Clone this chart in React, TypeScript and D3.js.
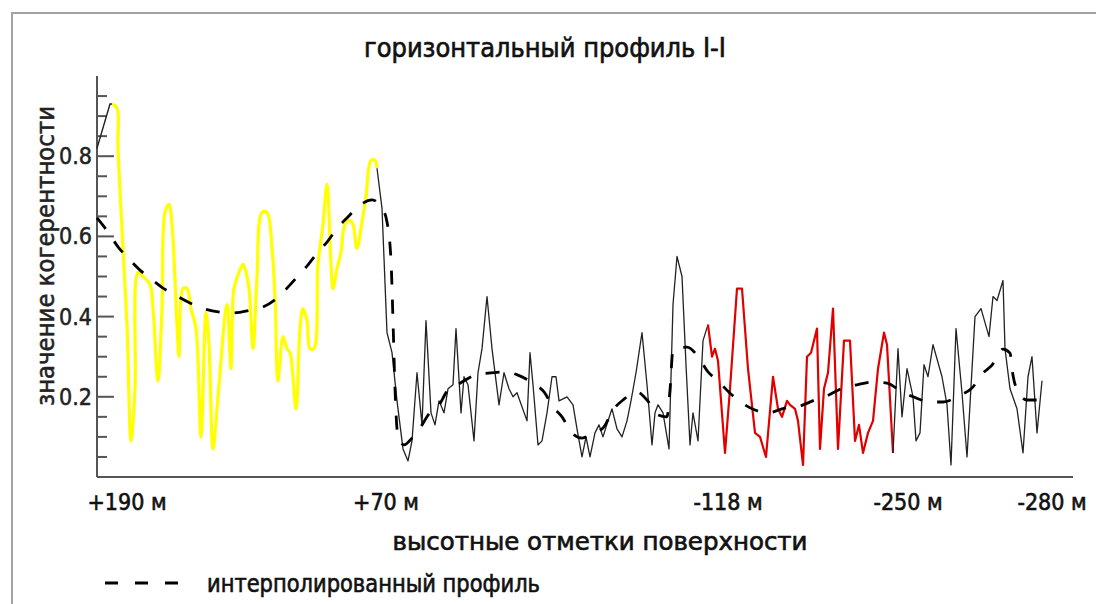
import { useEffect } from "react";
import * as d3 from "d3";

// coherence along the profile, [trace, value], split by highlight colour
const blackHead: [number, number][] = [
  [0, 0.82], [13, 0.93], [15, 0.93],
];

const yellowPart: [number, number][] = [
  [15, 0.93], [20, 0.92], [21, 0.82], [25, 0.62], [30, 0.38], [34, 0.09], [38, 0.22],
  [41, 0.51], [46, 0.5], [53, 0.48], [56, 0.42], [61, 0.24], [65, 0.42], [68, 0.66],
  [72, 0.68], [75, 0.63], [80, 0.38], [82, 0.3], [86, 0.47], [90, 0.47], [94, 0.42],
  [99, 0.37], [104, 0.1], [109, 0.41], [112, 0.33], [116, 0.07], [121, 0.2], [130, 0.43],
  [134, 0.27], [137, 0.47], [142, 0.51], [146, 0.53], [148, 0.52], [152, 0.47], [156, 0.32],
  [160, 0.5], [165, 0.66], [170, 0.66], [175, 0.57], [178, 0.45], [181, 0.24], [186, 0.35],
  [190, 0.32], [193, 0.31], [199, 0.17], [203, 0.37], [206, 0.42], [210, 0.39], [213, 0.32],
  [217, 0.32], [221, 0.53], [226, 0.63], [230, 0.73], [234, 0.53], [236, 0.47], [240, 0.52],
  [244, 0.56], [248, 0.63], [253, 0.64], [256, 0.63], [260, 0.57], [264, 0.62], [269, 0.7],
  [274, 0.79], [278, 0.79], [280, 0.77],
];

const blackMid: [number, number][] = [
  [280, 0.77], [285, 0.67], [290, 0.36], [295, 0.31], [300, 0.19], [306, 0.07], [311, 0.04],
  [315, 0.09], [320, 0.26], [325, 0.13], [329, 0.39], [334, 0.16], [338, 0.13], [342, 0.19],
  [347, 0.16], [351, 0.22], [356, 0.23], [359, 0.37], [364, 0.16], [367, 0.25], [371, 0.23],
  [377, 0.09], [381, 0.26], [385, 0.32], [390, 0.45], [395, 0.32], [402, 0.18], [407, 0.26],
  [412, 0.22], [416, 0.2], [420, 0.21], [430, 0.14], [433, 0.31], [436, 0.23], [441, 0.08],
  [445, 0.09], [450, 0.16], [455, 0.25], [459, 0.25], [462, 0.19], [470, 0.2], [476, 0.18],
  [480, 0.12], [485, 0.05], [489, 0.1], [493, 0.05], [498, 0.11], [502, 0.13], [506, 0.1],
  [511, 0.14], [515, 0.17], [520, 0.12], [525, 0.1], [530, 0.14], [534, 0.19], [539, 0.26],
  [545, 0.36], [550, 0.23], [555, 0.08], [558, 0.16], [561, 0.18], [566, 0.16], [572, 0.07],
  [576, 0.43], [580, 0.55], [585, 0.5], [589, 0.28], [593, 0.08], [596, 0.16], [601, 0.09],
  [606, 0.34], [611, 0.38],
];

const redPart: [number, number][] = [
  [611, 0.38], [615, 0.3], [618, 0.32], [621, 0.29], [628, 0.06], [633, 0.22], [640, 0.47],
  [645, 0.47], [651, 0.27], [658, 0.11], [663, 0.1], [669, 0.05], [676, 0.25], [681, 0.17],
  [685, 0.15], [690, 0.19], [693, 0.18], [698, 0.17], [701, 0.14], [706, 0.03], [710, 0.3],
  [714, 0.31], [720, 0.37], [723, 0.07], [727, 0.22], [731, 0.26], [736, 0.42], [741, 0.07],
  [747, 0.34], [753, 0.34], [758, 0.09], [762, 0.13], [766, 0.06], [771, 0.11], [776, 0.14],
  [781, 0.27], [787, 0.36], [790, 0.33], [796, 0.06],
];

const blackTail: [number, number][] = [
  [796, 0.06], [801, 0.32], [805, 0.15], [810, 0.27], [816, 0.2], [819, 0.09], [823, 0.11],
  [827, 0.28], [831, 0.25], [836, 0.33], [845, 0.25], [850, 0.18], [854, 0.03], [859, 0.37],
  [865, 0.21], [870, 0.05], [878, 0.4], [884, 0.42], [892, 0.35], [896, 0.45], [900, 0.44],
  [906, 0.49], [908, 0.32], [913, 0.22], [920, 0.17], [926, 0.06], [931, 0.25], [935, 0.3],
  [940, 0.11], [945, 0.24],
];

const interpolated: [number, number][] = [
  [0, 0.646], [11, 0.611], [21, 0.574], [30, 0.549], [43, 0.516], [53, 0.496], [66, 0.471],
  [78, 0.454], [93, 0.434], [105, 0.421], [123, 0.411], [135, 0.409], [153, 0.416],
  [166, 0.424], [180, 0.446], [190, 0.471], [202, 0.504], [211, 0.529], [221, 0.561],
  [230, 0.586], [241, 0.623], [250, 0.646], [263, 0.678], [275, 0.691], [286, 0.666],
  [290, 0.636], [294, 0.54], [296, 0.39], [298, 0.22], [301, 0.1], [307, 0.08], [315, 0.097],
  [323, 0.122], [333, 0.16], [340, 0.172], [351, 0.217], [363, 0.234], [378, 0.254],
  [391, 0.259], [408, 0.262], [421, 0.254], [436, 0.234], [447, 0.212], [456, 0.175],
  [465, 0.15], [475, 0.11], [485, 0.097], [496, 0.11], [506, 0.122], [516, 0.167],
  [526, 0.192], [540, 0.212], [550, 0.192], [561, 0.155], [570, 0.15], [573, 0.217],
  [576, 0.317], [590, 0.324], [600, 0.304], [611, 0.262], [620, 0.242], [633, 0.209],
  [641, 0.192], [658, 0.167], [671, 0.16], [688, 0.172], [700, 0.175], [718, 0.192],
  [728, 0.2], [746, 0.222], [758, 0.229], [776, 0.237], [790, 0.234], [805, 0.212],
  [816, 0.2], [833, 0.187], [846, 0.187], [863, 0.204], [875, 0.222], [886, 0.259],
  [895, 0.279], [906, 0.319], [913, 0.309], [916, 0.254], [919, 0.224], [930, 0.192],
  [945, 0.192],
];

const yLabelTicks = [0.2, 0.4, 0.6, 0.8];
const xLabels = ["+190 м", "+70 м", "-118 м", "-250 м", "-280 м"];
const xLabelTraces = [30, 289, 631, 811, 955];

const W = 1096;
const H = 604;
const cadFont = "'DejaVu Sans Condensed', 'DejaVu Sans', sans-serif";

export default function App() {
  useEffect(() => {
    document.body.style.margin = "0";
  }, []);

  const x = d3.scaleLinear().domain([0, 945]).range([97, 1042]);
  const y = d3.scaleLinear().domain([0, 1]).range([477, 76]);

  const line = d3
    .line<[number, number]>()
    .x((d) => x(d[0]))
    .y((d) => y(d[1]));
  const smooth = d3
    .line<[number, number]>()
    .x((d) => x(d[0]))
    .y((d) => y(d[1]))
    .curve(d3.curveCatmullRom.alpha(0.5));
  const dashed = d3
    .line<[number, number]>()
    .x((d) => x(d[0]))
    .y((d) => y(d[1]))
    .curve(d3.curveMonotoneX);

  const minorTicks = y.ticks(20).filter((t) => t > 0 && t < 1 && !yLabelTicks.some((m) => Math.abs(m - t) < 1e-6));

  // heavier text to mimic the CAD font strokes
  const heavy = { stroke: "#111", strokeWidth: 0.6 };

  return (
    <svg width={W} height={H} style={{ display: "block", position: "absolute", left: 0, top: 0 }}>
      <rect width={W} height={H} fill="#fff" />
      {/* frame */}
      <path d={`M12,${H} V13 H${W}`} fill="none" stroke="#a3a3a3" strokeWidth={2} />

      <text x={545} y={57} textAnchor="middle" fontFamily={cadFont} fontSize={26} textLength={362} lengthAdjust="spacingAndGlyphs" fill="#111" {...heavy}>
        горизонтальный профиль I-I
      </text>

      {/* axes */}
      <line x1={x(0)} x2={x(0)} y1={y(1)} y2={y(0)} stroke="#555" strokeWidth={2} />
      <line x1={x(0)} x2={x(976)} y1={y(0)} y2={y(0)} stroke="#555" strokeWidth={2} />
      {minorTicks.map((t) => (
        <line key={"m" + t} x1={x(0)} x2={x(0) + 10} y1={y(t)} y2={y(t)} stroke="#555" strokeWidth={2} />
      ))}
      {yLabelTicks.map((t) => (
        <g key={"M" + t}>
          <line x1={x(0)} x2={x(0) + 17} y1={y(t)} y2={y(t)} stroke="#555" strokeWidth={2} />
          <text x={92} y={y(t) + 8} textAnchor="end" fontFamily={cadFont} fontSize={23} fill="#222" stroke="#222" strokeWidth={0.5} textLength={33} lengthAdjust="spacingAndGlyphs">
            {t.toFixed(1)}
          </text>
        </g>
      ))}
      <text transform="translate(54,256) rotate(-90)" textAnchor="middle" fontFamily={cadFont} fontSize={24} fill="#222" stroke="#222" strokeWidth={0.5} textLength={300} lengthAdjust="spacingAndGlyphs">
        значение когерентности
      </text>

      {xLabels.map((lab, i) => (
        <text key={lab} x={x(xLabelTraces[i])} y={510} textAnchor="middle" fontFamily={cadFont} fontSize={23} fill="#111" {...heavy}>
          {lab}
        </text>
      ))}
      <text x={600} y={550} textAnchor="middle" fontFamily={cadFont} fontSize={24} textLength={415} lengthAdjust="spacingAndGlyphs" fill="#111" {...heavy}>
        высотные отметки поверхности
      </text>

      {/* data */}
      <path d={smooth(yellowPart) ?? ""} fill="none" stroke="#ffff00" strokeWidth={3.2} strokeLinejoin="round" />
      <path d={line(blackHead) ?? ""} fill="none" stroke="#222" strokeWidth={1.4} />
      <path d={line(blackMid) ?? ""} fill="none" stroke="#222" strokeWidth={1.3} strokeLinejoin="round" />
      <path d={line(redPart) ?? ""} fill="none" stroke="#e00000" strokeWidth={2.2} strokeLinejoin="round" />
      <path d={line(blackTail) ?? ""} fill="none" stroke="#222" strokeWidth={1.3} strokeLinejoin="round" />
      <path d={dashed(interpolated) ?? ""} fill="none" stroke="#000" strokeWidth={2.8} strokeDasharray="14,15" />

      {/* legend */}
      <line x1={105} x2={180} y1={583} y2={583} stroke="#000" strokeWidth={2.8} strokeDasharray="13,17" />
      <text x={207} y={592} fontFamily={cadFont} fontSize={24} textLength={333} lengthAdjust="spacingAndGlyphs" fill="#111" {...heavy}>
        интерполированный профиль
      </text>
    </svg>
  );
}
